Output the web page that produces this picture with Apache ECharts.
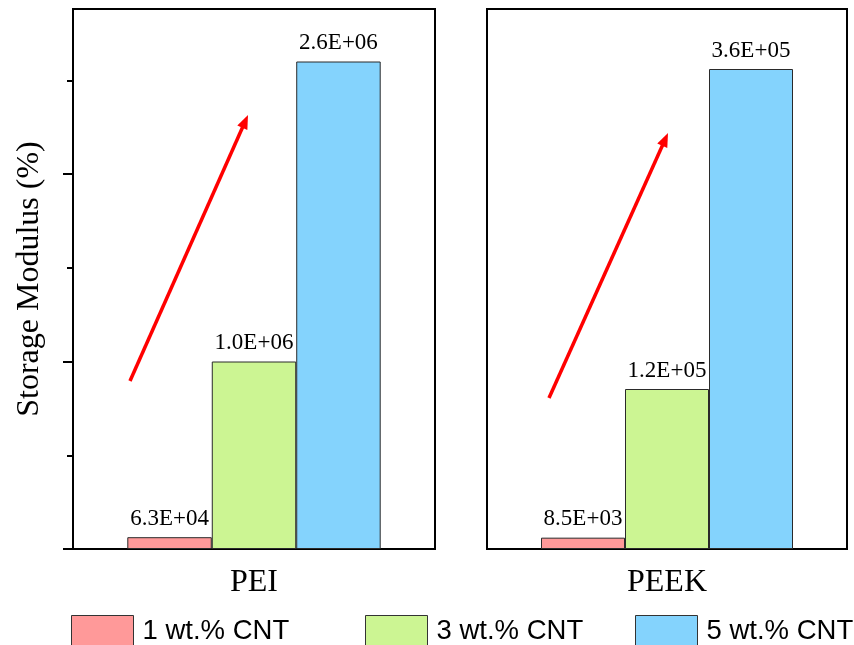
<!DOCTYPE html>
<html>
<head>
<meta charset="utf-8">
<script src="https://cdn.jsdelivr.net/npm/echarts@6/dist/echarts.min.js"></script>
<style>
  html, body { margin: 0; padding: 0; background: #ffffff; }
  #chart { width: 854px; height: 645px; }
</style>
</head>
<body>
<div id="chart"></div>
<script>
// Storage modulus of PEI and PEEK composites at three CNT loadings
const polymersLeft = ['PEI'];
const polymersRight = ['PEEK'];
const seriesNames = ['1 wt.% CNT', '3 wt.% CNT', '5 wt.% CNT'];
const cnt1 = [6.3e4, 8.5e3];   // [PEI, PEEK]
const cnt3 = [1.0e6, 1.2e5];
const cnt5 = [2.6e6, 3.6e5];
const peiMajorTicks = [0, 1e6, 2e6];
const peiMinorTicks = [5e5, 1.5e6, 2.5e6];

const colors = ['#FF9999', '#CCF593', '#84D3FD'];
const serif = 'Liberation Serif';
const sans = 'Liberation Sans';

function sci(v) {
  let e = Math.floor(Math.log10(v));
  let m = v / Math.pow(10, e);
  if (Number(m.toFixed(1)) >= 10) { m /= 10; e += 1; }
  const sign = e < 0 ? '-' : '+';
  return m.toFixed(1) + 'E' + sign + String(Math.abs(e)).padStart(2, '0');
}

const valuesBySeries = [cnt1, cnt3, cnt5];

const barSeries = [];
[0, 1].forEach(function (panel) {
  valuesBySeries.forEach(function (vals, i) {
    barSeries.push({
      name: seriesNames[i],
      type: 'bar',
      xAxisIndex: panel,
      yAxisIndex: panel === 0 ? 0 : 2,
      data: [vals[panel]],
      barGap: '0%',
      barCategoryGap: '30%',
      itemStyle: { color: colors[i], borderColor: '#2a2a2a', borderWidth: 1 },
      label: {
        show: true,
        position: 'top',
        distance: 7,
        formatter: function (p) { return sci(p.value); },
        fontFamily: serif,
        fontSize: 23,
        color: '#000'
      }
    });
  });
});

function arrow(x1, y1, x2, y2) {
  const dx = x2 - x1, dy = y2 - y1;
  const len = Math.sqrt(dx * dx + dy * dy);
  const ux = dx / len, uy = dy / len;
  const head = 14, half = 5.5;
  const bx = x2 - ux * head, by = y2 - uy * head;
  return [
    {
      type: 'line',
      shape: { x1: x1, y1: y1, x2: bx + ux * 2, y2: by + uy * 2 },
      style: { stroke: '#FF0000', lineWidth: 3.5 }
    },
    {
      type: 'polygon',
      shape: { points: [[x2, y2], [bx - uy * half, by + ux * half], [bx + uy * half, by - ux * half]] },
      style: { fill: '#FF0000' }
    }
  ];
}

const axisLineStyle = { color: '#000', width: 2 };

const option = {
  animation: false,
  backgroundColor: '#ffffff',
  grid: [
    { left: 73, top: 9, width: 362, height: 540, show: true, borderColor: '#000', borderWidth: 2 },
    { left: 487, top: 9, width: 360, height: 540, show: true, borderColor: '#000', borderWidth: 2 }
  ],
  legend: seriesNames.map(function (name, i) {
    return {
      data: [name],
      left: [71, 365, 635][i],
      top: 615,
      padding: 0,
      icon: 'rect',
      itemWidth: 62,
      itemHeight: 32,
      itemStyle: { borderColor: '#333', borderWidth: 1 },
      textStyle: { fontFamily: sans, fontSize: 27.5, color: '#000', padding: [0, 0, 0, 4] },
      selectedMode: false
    };
  }),
  xAxis: [
    {
      gridIndex: 0, type: 'category', data: polymersLeft,
      axisLine: { lineStyle: axisLineStyle },
      axisTick: { alignWithLabel: true, length: 10, lineStyle: axisLineStyle },
      axisLabel: { fontFamily: serif, fontSize: 32, color: '#000', margin: 18 }
    },
    {
      gridIndex: 1, type: 'category', data: polymersRight,
      axisLine: { lineStyle: axisLineStyle },
      axisTick: { alignWithLabel: true, length: 10, lineStyle: axisLineStyle },
      axisLabel: { fontFamily: serif, fontSize: 32, color: '#000', margin: 18 }
    }
  ],
  yAxis: [
    {
      gridIndex: 0, type: 'value', position: 'left', min: 0, max: 2.88e6,
      axisLine: { show: true, lineStyle: axisLineStyle },
      axisTick: { show: true, length: 10, lineStyle: axisLineStyle, customValues: peiMajorTicks },
      axisLabel: { show: false },
      splitLine: { show: false },
      name: 'Storage Modulus (%)',
      nameLocation: 'middle',
      nameGap: 27,
      nameTextStyle: { fontFamily: serif, fontSize: 32, color: '#000' }
    },
    {
      gridIndex: 0, type: 'value', position: 'left', offset: 0, min: 0, max: 2.88e6,
      axisLine: { show: false },
      axisTick: { show: true, length: 6, lineStyle: axisLineStyle, customValues: peiMinorTicks },
      axisLabel: { show: false },
      splitLine: { show: false }
    },
    {
      gridIndex: 1, type: 'value', position: 'left', min: 0, max: 4.05e5,
      axisLine: { show: true, lineStyle: axisLineStyle },
      axisTick: { show: false },
      axisLabel: { show: false },
      splitLine: { show: false }
    }
  ],
  series: barSeries,
  graphic: arrow(130, 381, 248, 115).concat(arrow(549, 398, 668, 133))
};

const chart = echarts.init(document.getElementById('chart'), null, { renderer: 'canvas' });
chart.setOption(option);
</script>
</body>
</html>
